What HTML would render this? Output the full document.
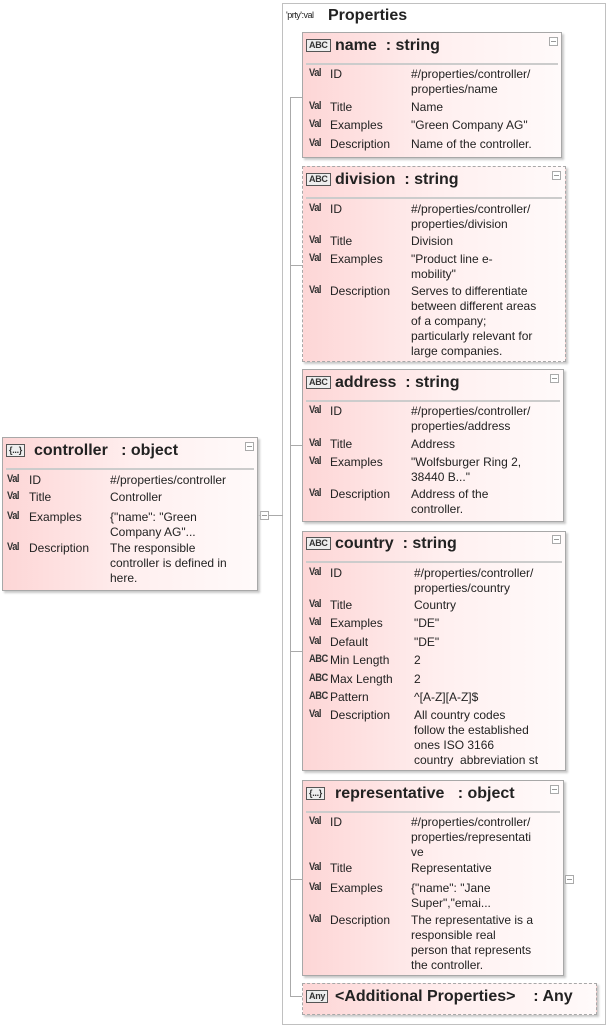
<!DOCTYPE html>
<html><head><meta charset="utf-8">
<style>
*{margin:0;padding:0;box-sizing:border-box}
body{width:611px;height:1028px;background:#fff;position:relative;overflow:hidden;font-family:"Liberation Sans",sans-serif;color:#222}
.a{position:absolute}
.box{position:absolute;border:1px solid #a8a8a8;background:linear-gradient(90deg,#fdd6d6 0%,#fff0f0 55%,#fffafa 100%);box-shadow:2px 2px 2px #c8c8c8}
.dash{border:1px dashed #a8a8a8}
.h{position:absolute;font-weight:bold;font-size:16px;line-height:18px;white-space:pre;color:#222}
.sep{position:absolute;height:2px;background:#ccc}
.t{position:absolute;font-size:12px;line-height:15px;white-space:pre;color:#222}
.ic{position:absolute;font-size:11px;font-weight:bold;line-height:12px;color:#333;letter-spacing:-0.6px;transform:scaleX(0.85);transform-origin:left}
.bx{position:absolute;font-size:9px;font-weight:bold;line-height:11px;border:1px solid #555;padding:0 2px;background:#eee;color:#333;letter-spacing:-0.3px}
.mn{position:absolute;width:9px;height:9px;border:1px solid #aaa;background:#fff}
.mn:after{content:"";position:absolute;left:1px;top:3px;width:5px;height:1px;background:#999}
.ln{position:absolute;background:#aaa}
</style></head><body>

<div class="a" style="left:282px;top:3px;width:324px;height:1022px;border:1px solid #c0c0c0"></div>
<div class="t" style="left:286px;top:8px;font-size:9px;letter-spacing:-0.5px">'prty':val</div>
<div class="h" style="left:328px;top:7px">Properties</div>

<div class="ln" style="left:258px;top:515px;width:25px;height:1px"></div>
<div class="mn" style="left:260px;top:511px"></div>
<div class="ln" style="left:290px;top:97px;width:1px;height:900px"></div>
<div class="ln" style="left:290px;top:97px;width:12px;height:1px"></div>
<div class="ln" style="left:290px;top:265px;width:12px;height:1px"></div>
<div class="ln" style="left:290px;top:445px;width:12px;height:1px"></div>
<div class="ln" style="left:290px;top:651px;width:12px;height:1px"></div>
<div class="ln" style="left:290px;top:879px;width:12px;height:1px"></div>
<div class="ln" style="left:290px;top:996px;width:12px;height:1px"></div>

<!-- controller -->
<div class="box" style="left:2px;top:437px;width:256px;height:154px"></div>
<div class="bx" style="left:6px;top:444px">{...}</div>
<div class="h" style="left:34px;top:442px">controller   : object</div>
<div class="mn" style="left:245px;top:442px"></div>
<div class="sep" style="left:6px;top:468px;width:248px"></div>
<div class="ic" style="left:7px;top:473px">Val</div><div class="t" style="left:29px;top:473px">ID</div><div class="t" style="left:110px;top:473px">#/properties/controller</div>
<div class="ic" style="left:7px;top:490px">Val</div><div class="t" style="left:29px;top:490px">Title</div><div class="t" style="left:110px;top:490px">Controller</div>
<div class="ic" style="left:7px;top:510px">Val</div><div class="t" style="left:29px;top:510px">Examples</div><div class="t" style="left:110px;top:510px">{"name": "Green<br>Company AG"...</div>
<div class="ic" style="left:7px;top:541px">Val</div><div class="t" style="left:29px;top:541px">Description</div><div class="t" style="left:110px;top:541px">The responsible<br>controller is defined in<br>here.</div>

<!-- name -->
<div class="box" style="left:302px;top:32px;width:260px;height:126px"></div>
<div class="bx" style="left:306px;top:39px">ABC</div>
<div class="h" style="left:335px;top:37px">name  : string</div>
<div class="mn" style="left:549px;top:37px"></div>
<div class="sep" style="left:306px;top:63px;width:252px"></div>
<div class="ic" style="left:309px;top:67px">Val</div><div class="t" style="left:330px;top:67px">ID</div><div class="t" style="left:411px;top:67px">#/properties/controller/<br>properties/name</div>
<div class="ic" style="left:309px;top:100px">Val</div><div class="t" style="left:330px;top:100px">Title</div><div class="t" style="left:411px;top:100px">Name</div>
<div class="ic" style="left:309px;top:118px">Val</div><div class="t" style="left:330px;top:118px">Examples</div><div class="t" style="left:411px;top:118px">"Green Company AG"</div>
<div class="ic" style="left:309px;top:137px">Val</div><div class="t" style="left:330px;top:137px">Description</div><div class="t" style="left:411px;top:137px">Name of the controller.</div>

<!-- division -->
<div class="box dash" style="left:302px;top:166px;width:264px;height:196px"></div>
<div class="bx" style="left:306px;top:173px">ABC</div>
<div class="h" style="left:335px;top:171px">division  : string</div>
<div class="mn" style="left:552px;top:171px"></div>
<div class="sep" style="left:306px;top:197px;width:256px"></div>
<div class="ic" style="left:309px;top:202px">Val</div><div class="t" style="left:330px;top:202px">ID</div><div class="t" style="left:411px;top:202px">#/properties/controller/<br>properties/division</div>
<div class="ic" style="left:309px;top:234px">Val</div><div class="t" style="left:330px;top:234px">Title</div><div class="t" style="left:411px;top:234px">Division</div>
<div class="ic" style="left:309px;top:252px">Val</div><div class="t" style="left:330px;top:252px">Examples</div><div class="t" style="left:411px;top:252px">"Product line e-<br>mobility"</div>
<div class="ic" style="left:309px;top:284px">Val</div><div class="t" style="left:330px;top:284px">Description</div><div class="t" style="left:411px;top:284px">Serves to differentiate<br>between different areas<br>of a company;<br>particularly relevant for<br>large companies.</div>

<!-- address -->
<div class="box" style="left:302px;top:369px;width:262px;height:153px"></div>
<div class="bx" style="left:306px;top:376px">ABC</div>
<div class="h" style="left:335px;top:374px">address  : string</div>
<div class="mn" style="left:550px;top:374px"></div>
<div class="sep" style="left:306px;top:400px;width:254px"></div>
<div class="ic" style="left:309px;top:404px">Val</div><div class="t" style="left:330px;top:404px">ID</div><div class="t" style="left:411px;top:404px">#/properties/controller/<br>properties/address</div>
<div class="ic" style="left:309px;top:437px">Val</div><div class="t" style="left:330px;top:437px">Title</div><div class="t" style="left:411px;top:437px">Address</div>
<div class="ic" style="left:309px;top:455px">Val</div><div class="t" style="left:330px;top:455px">Examples</div><div class="t" style="left:411px;top:455px">"Wolfsburger Ring 2,<br>38440 B..."</div>
<div class="ic" style="left:309px;top:487px">Val</div><div class="t" style="left:330px;top:487px">Description</div><div class="t" style="left:411px;top:487px">Address of the<br>controller.</div>

<!-- country -->
<div class="box" style="left:302px;top:531px;width:264px;height:240px"></div>
<div class="bx" style="left:306px;top:537px">ABC</div>
<div class="h" style="left:335px;top:535px">country  : string</div>
<div class="mn" style="left:552px;top:535px"></div>
<div class="sep" style="left:306px;top:561px;width:256px"></div>
<div class="ic" style="left:309px;top:566px">Val</div><div class="t" style="left:330px;top:566px">ID</div><div class="t" style="left:414px;top:566px">#/properties/controller/<br>properties/country</div>
<div class="ic" style="left:309px;top:598px">Val</div><div class="t" style="left:330px;top:598px">Title</div><div class="t" style="left:414px;top:598px">Country</div>
<div class="ic" style="left:309px;top:616px">Val</div><div class="t" style="left:330px;top:616px">Examples</div><div class="t" style="left:414px;top:616px">"DE"</div>
<div class="ic" style="left:309px;top:635px">Val</div><div class="t" style="left:330px;top:635px">Default</div><div class="t" style="left:414px;top:635px">"DE"</div>
<div class="ic" style="left:309px;top:653px">ABC</div><div class="t" style="left:330px;top:653px">Min Length</div><div class="t" style="left:414px;top:653px">2</div>
<div class="ic" style="left:309px;top:672px">ABC</div><div class="t" style="left:330px;top:672px">Max Length</div><div class="t" style="left:414px;top:672px">2</div>
<div class="ic" style="left:309px;top:690px">ABC</div><div class="t" style="left:330px;top:690px">Pattern</div><div class="t" style="left:414px;top:690px">^[A-Z][A-Z]$</div>
<div class="ic" style="left:309px;top:708px">Val</div><div class="t" style="left:330px;top:708px">Description</div><div class="t" style="left:414px;top:708px">All country codes<br>follow the established<br>ones ISO 3166<br>country  abbreviation st</div>

<!-- representative -->
<div class="box" style="left:302px;top:780px;width:262px;height:196px"></div>
<div class="bx" style="left:306px;top:787px">{...}</div>
<div class="h" style="left:335px;top:785px">representative   : object</div>
<div class="mn" style="left:550px;top:785px"></div>
<div class="sep" style="left:306px;top:811px;width:254px"></div>
<div class="mn" style="left:565px;top:875px"></div>
<div class="ic" style="left:309px;top:815px">Val</div><div class="t" style="left:330px;top:815px">ID</div><div class="t" style="left:411px;top:815px">#/properties/controller/<br>properties/representati<br>ve</div>
<div class="ic" style="left:309px;top:861px">Val</div><div class="t" style="left:330px;top:861px">Title</div><div class="t" style="left:411px;top:861px">Representative</div>
<div class="ic" style="left:309px;top:881px">Val</div><div class="t" style="left:330px;top:881px">Examples</div><div class="t" style="left:411px;top:881px">{"name": "Jane<br>Super","emai...</div>
<div class="ic" style="left:309px;top:913px">Val</div><div class="t" style="left:330px;top:913px">Description</div><div class="t" style="left:411px;top:913px">The representative is a<br>responsible real<br>person that represents<br>the controller.</div>

<!-- additional -->
<div class="box dash" style="left:302px;top:983px;width:295px;height:32px"></div>
<div class="bx" style="left:306px;top:990px">Any</div>
<div class="h" style="left:335px;top:988px">&lt;Additional Properties&gt;    : Any</div>

</body></html>
